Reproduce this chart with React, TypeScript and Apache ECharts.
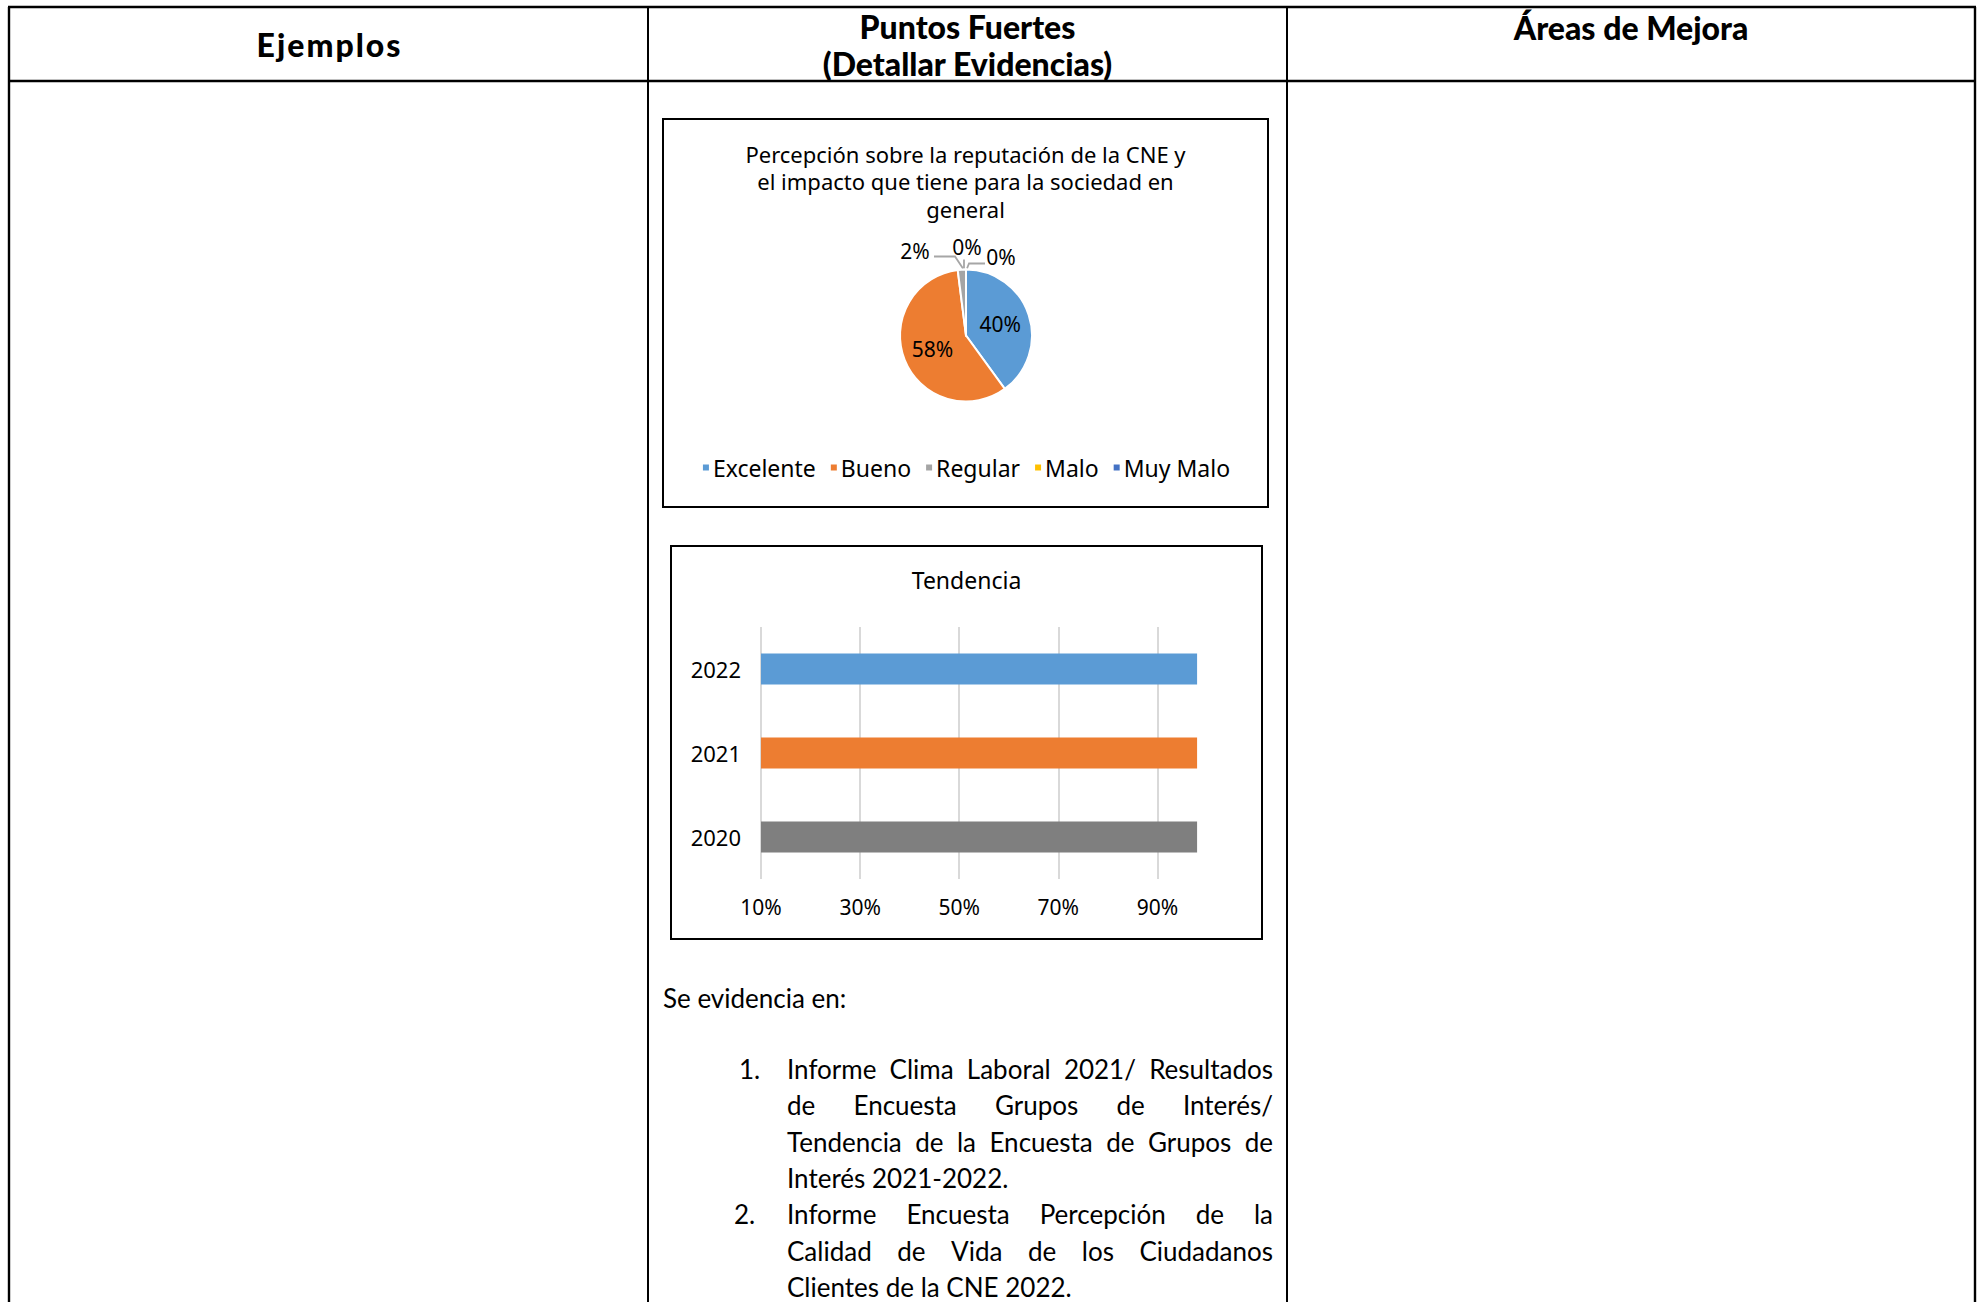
import React, { useEffect, useRef } from "react";
import * as echarts from "echarts";

// ---------- data ----------
const pieTitle = "Percepción sobre la reputación de la CNE y\nel impacto que tiene para la sociedad en\ngeneral";
const pieCategories = ["Excelente", "Bueno", "Regular", "Malo", "Muy Malo"];
const pieValues = [40, 58, 2, 0, 0];
const pieColors = ["#5B9BD5", "#ED7D31", "#A5A5A5", "#FFC000", "#4472C4"];

const barTitle = "Tendencia";
const barYears = ["2020", "2021", "2022"];
const barValues = [98, 98, 98];
const barColors = ["#7F7F7F", "#ED7D31", "#5B9BD5"];
const barAxisMin = 10;
const barAxisMax = 100;
const barAxisStep = 20;

const headerTexts = ["Ejemplos", "Puntos Fuertes", "(Detallar Evidencias)", "Áreas de Mejora"];
const introText = "Se evidencia en:";
const listNumbers = ["1.", "2."];
const listLines1 = [
  "Informe Clima Laboral 2021/ Resultados",
  "de Encuesta Grupos de Interés/",
  "Tendencia de la Encuesta de Grupos de",
  "Interés 2021-2022.",
];
const listLines2 = [
  "Informe Encuesta Percepción de la",
  "Calidad de Vida de los Ciudadanos",
  "Clientes de la CNE 2022.",
];

// label placement for the small outside pie labels (offsets from pie centre, px)
const smallLabelOffsets: Record<number, { x: number; y: number; line: number[][] }> = {
  2: { x: -51, y: -85, line: [[-32, -79], [-11, -79], [-3, -67]] },
  3: { x: 1, y: -89, line: [[-2, -76], [-2, -67]] },
  4: { x: 35, y: -79, line: [[19, -72], [3, -72], [1, -67]] },
};

const CHART_FONT = "'Noto Sans', 'Open Sans', sans-serif";
const DOC_FONT = "Lato, 'Noto Sans', sans-serif";

let measureCtx: CanvasRenderingContext2D | null = null;
function measure(text: string, font: string) {
  if (!measureCtx) measureCtx = document.createElement("canvas").getContext("2d");
  measureCtx!.font = font;
  return measureCtx!.measureText(text).width;
}

function textEl(text: string, x: number, y: number, size: number, weight: string | number, align = "left") {
  return {
    type: "text",
    x,
    y,
    style: {
      text,
      fontSize: size,
      fontFamily: DOC_FONT,
      fontWeight: weight,
      fill: "#000",
      align,
      verticalAlign: "middle",
    },
  };
}

function justifiedLine(text: string, x: number, y: number, width: number, size: number, justify: boolean) {
  if (!justify) return [textEl(text, x, y, size, "normal")];
  const font = `normal ${size}px Lato`;
  const words = text.split(" ");
  const ws = words.map((w) => measure(w, font));
  const total = ws.reduce((a, b) => a + b, 0);
  const gap = (width - total) / (words.length - 1);
  const els: any[] = [];
  let cx = x;
  words.forEach((w, i) => {
    els.push(textEl(w, cx, y, size, "normal"));
    cx += ws[i] + gap;
  });
  return els;
}

function spacedText(text: string, cx: number, y: number, size: number, spacing: number, weight: number) {
  const font = `${weight} ${size}px Lato`;
  const chars = text.split("");
  const ws = chars.map((c) => measure(c, font));
  const total = ws.reduce((a, b) => a + b, 0) + spacing * (chars.length - 1);
  let x = cx - total / 2;
  return chars.map((c, i) => {
    const el = textEl(c, x, y, size, weight);
    x += ws[i] + spacing;
    return el;
  });
}

export default function App() {
  const bgRef = useRef<HTMLDivElement>(null);
  const pieRef = useRef<HTMLDivElement>(null);
  const barRef = useRef<HTMLDivElement>(null);

  useEffect(() => {
    const bg = echarts.init(bgRef.current!, null, { renderer: "svg" });
    const pie = echarts.init(pieRef.current!, null, { renderer: "svg" });
    const bar = echarts.init(barRef.current!, null, { renderer: "svg" });

    // ---------- background table ----------
    const L = 9, R = 1975, T = 7, HB = 81, C1 = 648, C2 = 1287, B = 1310;
    const ln = (x1: number, y1: number, x2: number, y2: number, w = 2.2) => ({
      type: "line",
      shape: { x1, y1, x2, y2 },
      style: { stroke: "#000", lineWidth: w },
    });

    const textSize = 26;
    const lineStep = 36.3;
    const listX = 787;
    const listW = 1273 - 787;
    const list1Y = 1069;
    const HW = 900;
    const HS = 32;
    const els: any[] = [
      ln(L - 1, T, R + 1, T, 2.6),
      ln(L - 1, HB, R + 1, HB, 2.6),
      ln(L, T, L, B, 2.4),
      ln(R, T, R, B, 2.4),
      ln(C1, T, C1, B, 2),
      ln(C2, T, C2, B, 2),
      { type: "rect", shape: { x: 663, y: 119, width: 605, height: 388 }, style: { fill: "none", stroke: "#000", lineWidth: 2 } },
      { type: "rect", shape: { x: 671, y: 546, width: 591, height: 393 }, style: { fill: "none", stroke: "#000", lineWidth: 2 } },
      ...spacedText(headerTexts[0], (L + C1) / 2, 44, HS, 2, HW),
      textEl(headerTexts[1], (C1 + C2) / 2, 26, HS, HW, "center"),
      textEl(headerTexts[2], (C1 + C2) / 2, 63, HS, HW, "center"),
      textEl(headerTexts[3], (C2 + R) / 2, 27, HS, HW, "center"),
      textEl(introText, 663, 998, textSize, "normal"),
      textEl(listNumbers[0], 739, list1Y, textSize, "normal"),
      textEl(listNumbers[1], 734, list1Y + lineStep * listLines1.length, textSize, "normal"),
    ];
    listLines1.forEach((t, i) => {
      els.push(...justifiedLine(t, listX, list1Y + i * lineStep, listW, textSize, i < listLines1.length - 1));
    });
    listLines2.forEach((t, i) => {
      els.push(
        ...justifiedLine(t, listX, list1Y + (listLines1.length + i) * lineStep, listW, textSize, i < listLines2.length - 1)
      );
    });

    bg.setOption({ animation: false, graphic: { elements: els } });

    // ---------- pie ----------
    const pieCenter = [303, 216.5];
    pie.setOption({
      animation: false,
      title: {
        text: pieTitle,
        left: "center",
        top: 21,
        padding: 0,
        textStyle: { fontFamily: CHART_FONT, fontSize: 22, lineHeight: 27.5, fontWeight: "normal", color: "#000" },
      },
      legend: {
        data: pieCategories,
        left: "center",
        top: 337,
        padding: 0,
        icon: "rect",
        itemWidth: 8,
        itemHeight: 8,
        itemGap: 13,
        textStyle: { fontFamily: CHART_FONT, fontSize: 23, color: "#000", padding: [0, 0, 0, -2] },
      },
      series: [
        {
          type: "pie",
          center: pieCenter,
          radius: 66,
          startAngle: 90,
          clockwise: true,
          avoidLabelOverlap: false,
          itemStyle: { borderColor: "#fff", borderWidth: 2 },
          label: {
            fontFamily: CHART_FONT,
            fontSize: 21,
            color: "#000",
            formatter: (p: any) => `${p.value}%`,
          },
          labelLine: { length: 10, length2: 14, lineStyle: { color: "#A6A6A6", width: 1.8 } },
          labelLayout: (params: any) => {
            const o = smallLabelOffsets[params.dataIndex];
            if (!o) return {};
            return {
              x: pieCenter[0] + o.x,
              y: pieCenter[1] + o.y,
              align: "center",
              verticalAlign: "middle",
              labelLinePoints: o.line.map((p) => [pieCenter[0] + p[0], pieCenter[1] + p[1]]),
            };
          },
          data: pieCategories.map((name, i) => ({
            name,
            value: pieValues[i],
            itemStyle: { color: pieColors[i] },
            label: { position: i < 2 ? "inside" : "outside" },
            labelLine: { show: i >= 2 },
          })),
        },
      ],
    });

    // ---------- bar ----------
    bar.setOption({
      animation: false,
      title: {
        text: barTitle,
        left: "center",
        top: 22,
        padding: 0,
        textStyle: { fontFamily: CHART_FONT, fontSize: 23, fontWeight: "normal", color: "#000" },
      },
      grid: { left: 90, right: 55, top: 81, bottom: 60 },
      xAxis: {
        type: "value",
        min: barAxisMin,
        max: barAxisMax,
        interval: barAxisStep,
        axisLine: { show: false },
        axisTick: { show: false },
        splitLine: { show: true, showMaxLine: false, lineStyle: { color: "#D9D9D9", width: 2 } },
        axisLabel: {
          showMaxLabel: false,
          margin: 17,
          fontFamily: CHART_FONT,
          fontSize: 21,
          color: "#000",
          formatter: (v: number) => `${v}%`,
        },
      },
      yAxis: {
        type: "category",
        data: barYears,
        axisLine: { show: false },
        axisTick: { show: false },
        axisLabel: { margin: 20, fontFamily: CHART_FONT, fontSize: 22, color: "#000" },
      },
      series: [
        {
          type: "bar",
          barWidth: "37%",
          data: barValues.map((v, i) => ({ value: v, itemStyle: { color: barColors[i] } })),
        },
      ],
    });

    return () => {
      bg.dispose();
      pie.dispose();
      bar.dispose();
    };
  }, []);

  return (
    <div style={{ position: "fixed", left: 0, top: 0, width: 1977, height: 1302, background: "#fff", overflow: "hidden" }}>
      <div ref={bgRef} style={{ position: "absolute", left: 0, top: 0, width: 1977, height: 1302 }} />
      <div ref={pieRef} style={{ position: "absolute", left: 663, top: 118.5, width: 605, height: 388 }} />
      <div ref={barRef} style={{ position: "absolute", left: 671, top: 546, width: 591, height: 393 }} />
    </div>
  );
}
